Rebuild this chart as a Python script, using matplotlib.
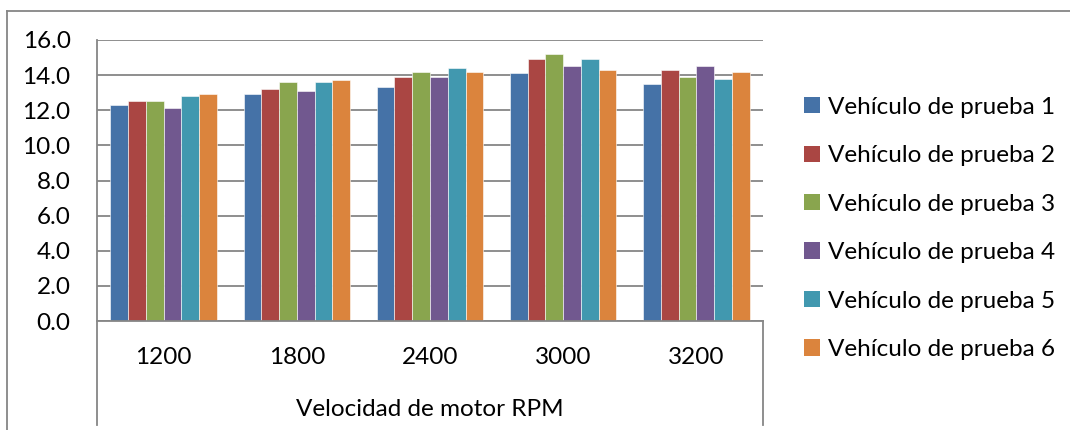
import matplotlib
matplotlib.use("Agg")
import matplotlib.pyplot as plt
from matplotlib.lines import Line2D
from matplotlib.patches import Patch
import numpy as np

plt.rcParams['font.family'] = ['Lato', 'DejaVu Sans']

categories = ["1200", "1800", "2400", "3000", "3200"]
series_names = ["Vehículo de prueba 1", "Vehículo de prueba 2", "Vehículo de prueba 3",
                "Vehículo de prueba 4", "Vehículo de prueba 5", "Vehículo de prueba 6"]
v1 = [12.3, 12.9, 13.3, 14.1, 13.5]
v2 = [12.5, 13.2, 13.9, 14.9, 14.3]
v3 = [12.5, 13.6, 14.2, 15.2, 13.9]
v4 = [12.1, 13.1, 13.9, 14.5, 14.5]
v5 = [12.8, 13.6, 14.4, 14.9, 13.8]
v6 = [12.9, 13.7, 14.2, 14.3, 14.2]
series = [v1, v2, v3, v4, v5, v6]
colors = ["#4572A7", "#AA4643", "#89A54E", "#71588F", "#4198AF", "#DB843D"]
yticks = [0, 2, 4, 6, 8, 10, 12, 14, 16]
x_title = "Velocidad de motor RPM"

FS = 17.5
W, H = 1070, 430
fig = plt.figure(figsize=(W / 100, H / 100), dpi=100)

def fx(px):
    return px / W

def fy(py):
    return 1 - py / H

L, R, T, B = 97, 763, 40, 321
ax = fig.add_axes([fx(L), fy(B), fx(R - L), (B - T) / H])

n = len(series)
x = np.arange(len(categories))
bw = 0.8 / n
for i, (vals, c, name) in enumerate(zip(series, colors, series_names)):
    ax.bar(x - 0.4 + bw * (i + 0.5), vals, width=bw, color=c,
           edgecolor="#ffffff", linewidth=0.4, label=name, zorder=3)

ax.set_xlim(-0.5, len(categories) - 0.5)
ax.set_ylim(0, 16)
ax.set_yticks(yticks)
ax.yaxis.grid(True, color="#868686", linewidth=1.3, zorder=0)
ax.set_axisbelow(True)
for s in ax.spines.values():
    s.set_visible(False)
ax.tick_params(axis="both", length=0)
ax.set_xticks([])
ax.set_yticklabels([f"{v:.1f}" for v in yticks], fontsize=FS)
ax.tick_params(axis="y", pad=19)

gc = "#868686"
lines = [
    ((L, L), (T, 425)),
    ((R, R), (B, 425)),
    ((L, R), (B, B)),
    ((7, W), (11, 11)),
    ((7, 7), (11, H)),
]
for xs, ys in lines:
    fig.add_artist(Line2D([fx(xs[0]), fx(xs[1])], [fy(ys[0]), fy(ys[1])],
                          color=gc, linewidth=1.3))

for i, cat in enumerate(categories):
    cx = L + (R - L) * (i + 0.5) / len(categories)
    fig.text(fx(cx), fy(357), cat, ha="center", va="center", fontsize=FS)

fig.text(fx((L + R) / 2), fy(409), x_title, ha="center", va="center", fontsize=FS)

handles = [Patch(facecolor=c, edgecolor="none") for c in colors]
fig.legend(handles, series_names, loc="upper left",
           bbox_to_anchor=(fx(794), fy(87)), frameon=False, fontsize=FS,
           handlelength=0.65, handleheight=0.65, handletextpad=0.35,
           labelspacing=1.13, borderaxespad=0)

fig.savefig("out.png", dpi=100, facecolor="white")
